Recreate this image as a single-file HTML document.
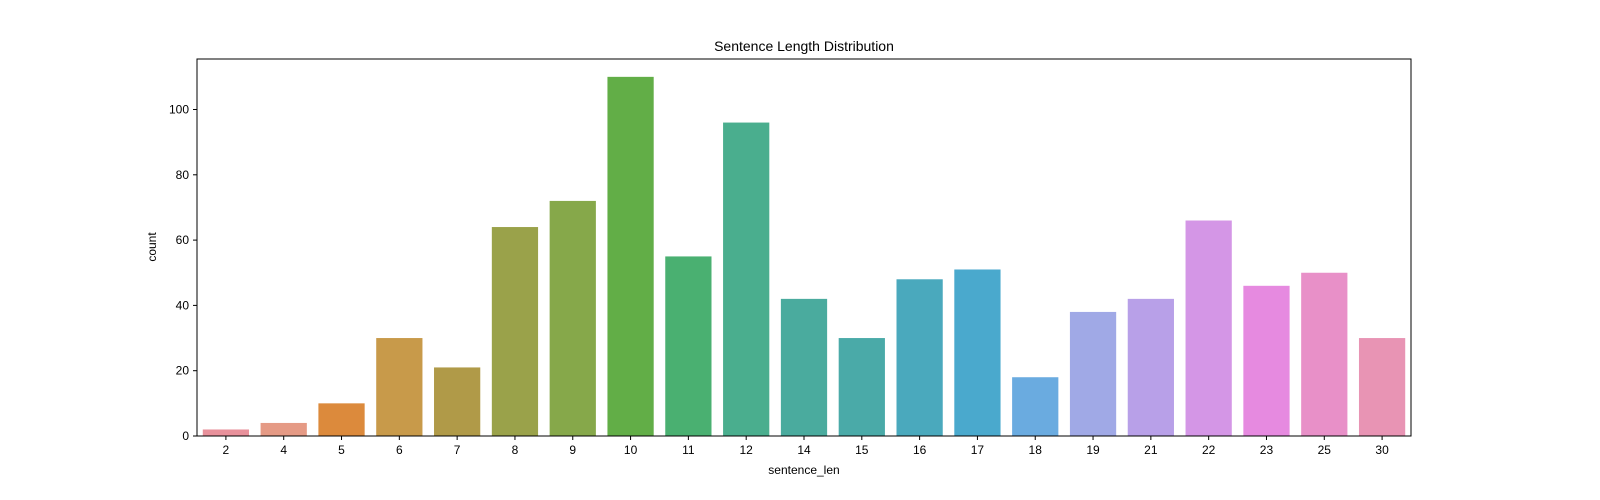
<!DOCTYPE html>
<html><head><meta charset="utf-8"><style>
body{margin:0;background:#fff;}
svg{display:block;font-family:"Liberation Sans","Noto Sans CJK SC",sans-serif;}
</style></head><body>
<svg id="chart" width="1600" height="500">
<text x="804" y="51" text-anchor="middle" font-size="14">Sentence Length Distribution</text>
<g id="bars"></g><g id="axes"></g>
<rect x="197" y="59" width="1214" height="377" fill="none" stroke="#000" stroke-width="1"/>
<text x="804" y="474" text-anchor="middle" font-size="12">sentence_len</text>
<text transform="translate(156,247) rotate(-90)" text-anchor="middle" font-size="12">count</text>
</svg>
<script>
const categories=["2","4","5","6","7","8","9","10","11","12","14","15","16","17","18","19","21","22","23","25","30"];
const counts=[2,4,10,30,21,64,72,110,55,96,42,30,48,51,18,38,42,66,46,50,30];
const colors=["#e8919b","#e59a85","#dc8a3c","#c89a4a","#b09a48","#9aa24a","#86a84a","#62ae47","#4ab071","#4aae8e","#4aab9e","#4aaaa8","#4aa9bd","#4aa9cd","#6aabe0","#a0a9e6","#b8a0e8","#d496e6","#e68ae0","#e890c8","#e894b4"];
const yTicks=[0,20,40,60,80,100];
const NS="http://www.w3.org/2000/svg";
const x0=197,x1=1411,yBase=436,pxPerUnit=3.265;
const band=(x1-x0)/categories.length;
function xCenter(i){return x0+band*(i+0.5);}
function yPos(v){return yBase-v*pxPerUnit;}
const bars=document.getElementById('bars'),axes=document.getElementById('axes');
counts.forEach((v,i)=>{
 const r=document.createElementNS(NS,'rect');
 r.setAttribute('x',xCenter(i)-band*0.4);r.setAttribute('width',band*0.8);
 r.setAttribute('y',yPos(v));r.setAttribute('height',yBase-yPos(v));r.setAttribute('fill',colors[i]);
 
 
 bars.appendChild(r);
 const t=document.createElementNS(NS,'line');
 t.setAttribute('x1',xCenter(i));t.setAttribute('x2',xCenter(i));t.setAttribute('y1',yBase);t.setAttribute('y2',yBase+4);t.setAttribute('stroke','#000');
 
 
 axes.appendChild(t);
 const l=document.createElementNS(NS,'text');
 l.setAttribute('x',xCenter(i));l.setAttribute('y',yBase+18);l.setAttribute('text-anchor','middle');l.setAttribute('font-size','12');l.textContent=categories[i];
 
 
 axes.appendChild(l);
});
yTicks.forEach(v=>{
 const t=document.createElementNS(NS,'line');
 t.setAttribute('x1',x0-4);t.setAttribute('x2',x0);t.setAttribute('y1',yPos(v));t.setAttribute('y2',yPos(v));t.setAttribute('stroke','#000');
 
 
 axes.appendChild(t);
 const l=document.createElementNS(NS,'text');
 l.setAttribute('x',x0-8);l.setAttribute('y',yPos(v)+4);l.setAttribute('text-anchor','end');l.setAttribute('font-size','12');l.textContent=v;
 
 
 axes.appendChild(l);
});
</script>
</body></html>
